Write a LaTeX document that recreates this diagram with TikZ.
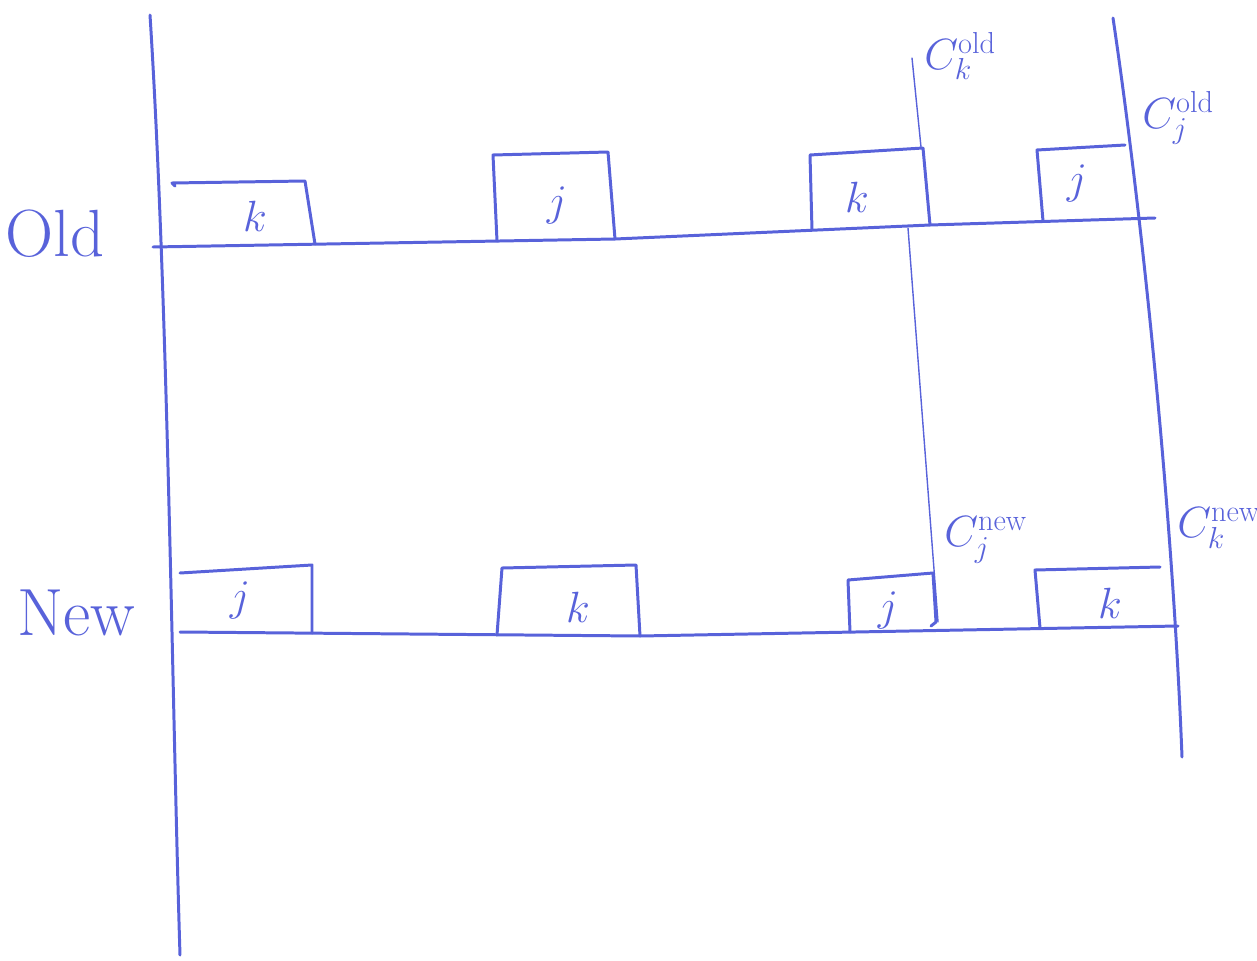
\documentclass[tikz,border=0pt]{standalone}
\usepackage{tikz}
\usetikzlibrary{positioning}
\definecolor{pen}{RGB}{88,98,218}
\begin{document}
\begin{tikzpicture}[
      x=0.2mm, y=-0.2mm,
      every node/.style={text=pen, inner sep=0pt},
      pen/.style={draw=pen, line width=1.7pt, line cap=round, line join=round},
      guide/.style={draw=pen, line width=0.8pt, line cap=round},
      rowname/.style={font=\fontsize{38}{40}\selectfont},
      tag/.style={font=\fontsize{28}{30}\selectfont},
      cost/.style={font=\fontsize{26}{28}\selectfont, anchor=west}
    ]
      \useasboundingbox (0,0) rectangle (1257,961);
      % time axes
      \draw[pen] (150,15) .. controls (168,300) and (172,700) .. (180,955);
      \draw[pen] (1113,18) .. controls (1140,200) and (1172,500) .. (1182,757);
      \draw[guide] (912,58) -- (921,147);
      \draw[guide] (908,228) -- (938,622);
      % old row
      \draw[pen] (153,247) -- (615,239) -- (930,225) -- (1155,218);
      \draw[pen] (175,186) -- (172,183) -- (305,181) -- (315,244);
      \draw[pen] (497,241) -- (493,155) -- (608,152) -- (615,239);
      \draw[pen] (812,230) -- (810,155) -- (923,148) -- (930,225);
      \draw[pen] (1043,221) -- (1037,150) -- (1125,145);
      \node[tag] (oldk1) at (255,216) {$k$};
      \node[tag] (oldj1) at (557,205) {$j$};
      \node[tag] (oldk2) at (857,197) {$k$};
      \node[tag] (oldj2) at (1077,183) {$j$};
      \node[rowname] (old) at (55,234) {Old};
      % new row
      \draw[pen] (180,632) -- (640,636) -- (1178,626);
      \draw[pen] (180,573) -- (312,565) -- (312,633);
      \draw[pen] (497,635) -- (502,568) -- (636,565) -- (640,636);
      \draw[pen] (850,632) -- (848,580) -- (933,573) -- (936,622) -- (931,626);
      \draw[pen] (1040,628) -- (1035,570) -- (1160,567);
      \node[tag] (newj1) at (240,600) {$j$};
      \node[tag] (newk1) at (578,607) {$k$};
      \node[tag] (newj2) at (888,610) {$j$};
      \node[tag] (newk2) at (1110,603) {$k$};
      \node[rowname] (new) at (76,613) {New};
      % costs
      \node[cost] (ckold) at (924,56) {$C_k^{\mathrm{old}}$};
      \node[cost] (cjold) at (1142,118) {$C_j^{\mathrm{old}}$};
      \node[cost] (cjnew) at (944,540) {$C_j^{\mathrm{new}}$};
      \node[cost] (cknew) at (1177,528) {$C_k^{\mathrm{new}}$};
    \end{tikzpicture}
\end{document}
